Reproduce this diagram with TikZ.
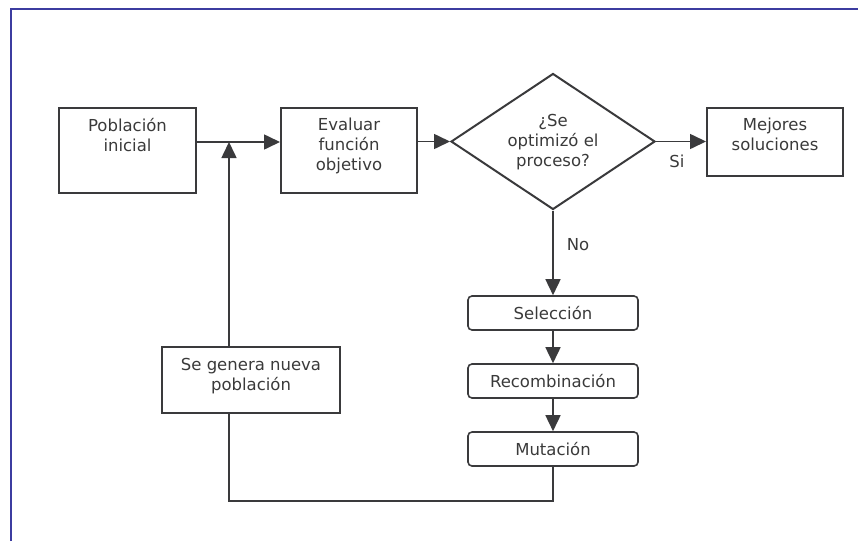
\documentclass[tikz,border=0pt]{standalone}
\usepackage{fontspec}
\setmainfont{DejaVu Sans}
\usetikzlibrary{arrows.meta,shapes.geometric}
\definecolor{ink}{HTML}{3A3A3C}
\definecolor{txt}{HTML}{3A3A3A}
\definecolor{frame}{HTML}{3C3CA0}
\tikzset{
  box/.style={draw=ink, line width=2pt, rectangle, inner sep=0pt},
  rbox/.style={draw=ink, line width=1.6pt, rectangle, rounded corners=4pt,
    minimum width=170pt, minimum height=34pt, inner sep=0pt,
    font=\fontsize{16.5}{20}\selectfont, text=txt},
  lbl/.style={font=\fontsize{16.5}{20}\selectfont, text=txt, align=center, inner sep=0pt},
  conn/.style={draw=ink, line width=1.6pt},
  arr/.style={conn, -{Triangle[length=16pt,width=15pt]}},
}
\begin{document}
\begin{tikzpicture}[x=1pt,y=-1pt]
  \useasboundingbox (0,0) rectangle (858,541);
  % outer frame (top and left edges)
  \draw[frame, line width=1.5pt] (11,541) -- (11,9) -- (858,9);

  % process boxes
  \node[box, minimum width=137pt, minimum height=85pt] (pob) at (127.5,150.5) {};
  \node[lbl, anchor=north] (pobt) at (127.5,118) {Población\\inicial};

  \node[box, minimum width=136pt, minimum height=85pt] (eva) at (349,150.5) {};
  \node[lbl, anchor=north] (evat) at (349,118) {Evaluar\\función\\objetivo};

  \node[draw=ink, line width=2pt, diamond, minimum width=204pt, minimum height=136pt,
        inner sep=0pt] (dia) at (553,141.5) {};
  \node[lbl] (diat) at (553,142) {¿Se\\optimizó el\\proceso?};

  \node[box, minimum width=136pt, minimum height=68pt] (mej) at (775,142) {};
  \node[lbl, anchor=north] (mejt) at (775,118) {Mejores\\soluciones};

  \node[rbox] (sel) at (553,313) {Selección};
  \node[rbox] (rec) at (553,381) {Recombinación};
  \node[rbox] (mut) at (553,449) {Mutación};

  \node[box, minimum width=178pt, minimum height=66pt] (gen) at (251,380) {};
  \node[lbl, anchor=north] (gent) at (251,358) {Se genera nueva\\población};

  % junction and loop corner
  \coordinate (j) at (229,142);
  \coordinate (loop) at (553,501);

  % connectors along the main line
  \draw[arr] (pob.east |- j) -- (eva.west |- j);
  \draw[arr] (eva.east |- dia) -- (dia.west);
  \draw[arr] (dia.east) -- (mej.west |- dia);
  \draw[arr] (dia.south) -- (sel.north);
  \draw[arr] (sel.south) -- (rec.north);
  \draw[arr] (rec.south) -- (mut.north);
  % feedback loop
  \draw[conn] (mut.south) -- (loop) -| (gen.south -| j);
  \draw[arr] (gen.north -| j) -- (j);

  % branch labels
  \node[lbl] (si) at (677,161) {Si};
  \node[lbl] (no) at (578,245) {No};
\end{tikzpicture}
\end{document}
